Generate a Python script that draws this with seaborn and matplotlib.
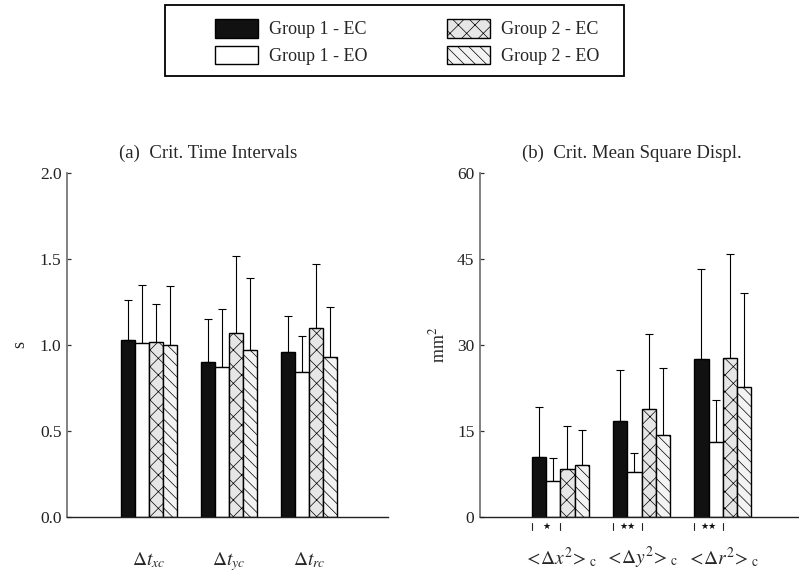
import numpy as np
import pandas as pd
import matplotlib
matplotlib.use("Agg")
import matplotlib.pyplot as plt
import matplotlib.transforms as mtransforms
from matplotlib.patches import Patch, Rectangle
import seaborn as sns

# ---------------- data ----------------
groups = ["Group 1 - EC", "Group 1 - EO", "Group 2 - EC", "Group 2 - EO"]

time_labels = [r"$\Delta t_{xc}$", r"$\Delta t_{yc}$", r"$\Delta t_{rc}$"]
time_means = {
    "Group 1 - EC": [1.03, 0.90, 0.96],
    "Group 1 - EO": [1.01, 0.87, 0.84],
    "Group 2 - EC": [1.02, 1.07, 1.10],
    "Group 2 - EO": [1.00, 0.97, 0.93],
}
time_sd = {
    "Group 1 - EC": [0.23, 0.25, 0.21],
    "Group 1 - EO": [0.34, 0.34, 0.21],
    "Group 2 - EC": [0.22, 0.45, 0.37],
    "Group 2 - EO": [0.34, 0.42, 0.29],
}

msd_labels = [r"$<\!\Delta x^2\!>_{\mathrm{c}}$", r"$<\!\Delta y^2\!>_{\mathrm{c}}$",
              r"$<\!\Delta r^2\!>_{\mathrm{c}}$"]
msd_means = {
    "Group 1 - EC": [10.4, 16.8, 27.5],
    "Group 1 - EO": [6.2, 7.8, 13.0],
    "Group 2 - EC": [8.4, 18.8, 27.7],
    "Group 2 - EO": [9.1, 14.3, 22.6],
}
msd_sd = {
    "Group 1 - EC": [8.8, 8.8, 15.8],
    "Group 1 - EO": [4.1, 3.4, 7.4],
    "Group 2 - EC": [7.5, 13.1, 18.2],
    "Group 2 - EO": [6.1, 11.7, 16.4],
}
msd_sig = ["\u2605", "\u2605\u2605", "\u2605\u2605"]

time_ticks = [0.0, 0.5, 1.0, 1.5, 2.0]
msd_ticks = [0, 15, 30, 45, 60]

# ---------------- style ----------------
sns.set_style("ticks")
plt.rcParams["font.family"] = ["Liberation Serif", "DejaVu Sans"]
plt.rcParams["mathtext.fontset"] = "stix"
plt.rcParams["hatch.linewidth"] = 0.5
plt.rcParams["axes.linewidth"] = 1.0

face = {"Group 1 - EC": "#111111", "Group 1 - EO": "#ffffff",
        "Group 2 - EC": "#e6e6e6", "Group 2 - EO": "#f3f3f3"}
hatch = {"Group 1 - EC": "", "Group 1 - EO": "",
         "Group 2 - EC": "xx", "Group 2 - EO": "\\\\\\"}

fig = plt.figure(figsize=(7.99, 5.72), dpi=100)
axL = fig.add_axes([0.0839, 0.0962, 0.4017, 0.6014])
axR = fig.add_axes([0.6008, 0.0962, 0.3992, 0.6014])


def long_df(labels, means):
    rows = []
    for g in groups:
        for lab, v in zip(labels, means[g]):
            rows.append({"metric": lab, "group": g, "value": v})
    return pd.DataFrame(rows)


def draw(ax, labels, means, sds, ticks, fmt, ylabel, title, title_x, xlim, pad):
    df = long_df(labels, means)
    sns.barplot(data=df, x="metric", y="value", hue="group", hue_order=groups,
                order=labels, palette=face, edgecolor="black", linewidth=1.0,
                width=0.7, errorbar=None, legend=False, ax=ax, zorder=2)
    for g, cont in zip(groups, ax.containers):
        xs, hs = [], []
        for b in cont:
            b.set_hatch(hatch[g])
            xs.append(b.get_x() + b.get_width() / 2)
            hs.append(b.get_height())
        ax.errorbar(xs, hs, yerr=[np.zeros(len(hs)), sds[g]], fmt="none",
                    ecolor="black", elinewidth=0.8, capsize=3, capthick=0.8, zorder=1)
    ax.set_ylim(ticks[0], ticks[-1])
    ax.set_yticks(ticks)
    ax.set_yticklabels([fmt.format(t) for t in ticks], fontsize=12.5, color="#222222")
    ax.set_xlim(*xlim)
    ax.set_xticks(range(len(labels)))
    ax.set_xticklabels(labels, fontsize=14)
    ax.tick_params(axis="x", length=0, pad=pad)
    ax.tick_params(axis="y", length=3, width=0.9, direction="in", pad=4,
                   color="#333333")
    ax.set_xlabel("")
    ax.set_ylabel(ylabel, fontsize=13)
    ax.set_title(title, fontsize=13.5, pad=11, x=title_x)
    sns.despine(ax=ax)
    ax.spines["left"].set_color("#777777")
    ax.spines["left"].set_linewidth(1.3)
    ax.spines["bottom"].set_color("#222222")


draw(axL, time_labels, time_means, time_sd, time_ticks, "{:.1f}", "s",
     "(a)  Crit. Time Intervals", 0.44, (-1.025, 2.99), 24)
axL.yaxis.set_label_coords(-0.12, 0.5)

draw(axR, msd_labels, msd_means, msd_sd, msd_ticks, "{:d}", r"mm$^2$",
     "(b)  Crit. Mean Square Displ.", 0.476, (-0.99, 2.94), 20)
axR.yaxis.set_label_coords(-0.10, 0.5)

# significance markers between Group 1 EC and EO bars
trans = mtransforms.blended_transform_factory(axR.transData, axR.transAxes)
c_ec, c_eo = axR.containers[0], axR.containers[1]
for sig, b1, b2 in zip(msd_sig, c_ec, c_eo):
    x0 = b1.get_x()
    x1 = b2.get_x() + b2.get_width()
    for xx in (x0, x1):
        axR.plot([xx, xx], [-0.038, -0.018], transform=trans, color="#222222",
                 lw=0.8, clip_on=False)
    axR.text((x0 + x1) / 2, -0.028, sig, transform=trans, ha="center", va="center",
             fontsize=6.5, family="DejaVu Sans", color="#111111")

# legend frame
fig.patches.append(Rectangle((165 / 799, 1 - 76 / 572), 459 / 799, 71 / 572,
                             transform=fig.transFigure, facecolor="white",
                             edgecolor="black", linewidth=1.3, zorder=0))
handles = [Patch(facecolor=face[g], edgecolor="black", hatch=hatch[g], linewidth=1.0)
           for g in groups]
fig.legend(handles, groups, loc="center", ncol=2,
           bbox_to_anchor=(407 / 799, 1 - 42 / 572), fontsize=13,
           frameon=False, handlelength=2.4, handleheight=1.2, borderpad=0.0,
           labelspacing=0.4, columnspacing=4.4, handletextpad=0.6, borderaxespad=0.0)

fig.savefig("out.png", dpi=100)
